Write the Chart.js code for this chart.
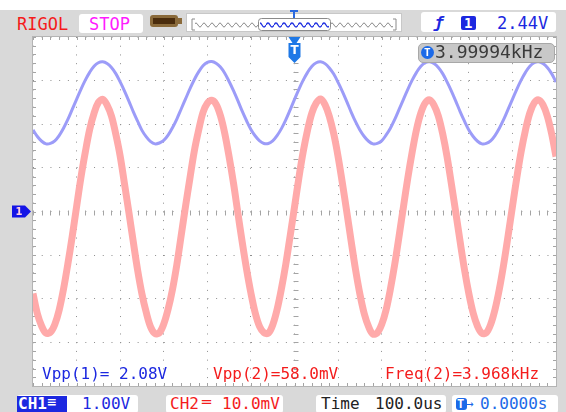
<!DOCTYPE html>
<html>
<head>
<meta charset="utf-8">
<script src="https://cdn.jsdelivr.net/npm/chart.js@4.4.1/dist/chart.umd.min.js"></script>
<style>
html, body { margin: 0; padding: 0; background: #fff; }
#scope { position: relative; width: 566px; height: 412px; overflow: hidden; background: #fff; }
#panel { position: absolute; left: 0; top: 10px; width: 566px; height: 402px; background: #d9d9d9; }
#c { position: absolute; left: 0; top: 0; }
.t { position: absolute; font-family: "DejaVu Sans Mono", monospace; font-size: 16px; line-height: 18px; white-space: pre; }
.box { position: absolute; background: #fff; border-radius: 3px; }
</style>
</head>
<body>
<div id="scope">
  <div id="panel"></div>

  <!-- top bar -->
  <div class="t" style="left:17px;top:15px;color:#f41c1c;font-size:17px;">RIGOL</div>
  <div class="box" style="left:79px;top:14px;width:64px;height:19px;"></div>
  <div class="t" style="left:89px;top:15px;color:#ff1cff;font-size:17px;">STOP</div>
  <div style="position:absolute;left:150px;top:15px;width:28px;height:12px;background:#8a6a3a;border-radius:3px;"></div>
  <div style="position:absolute;left:153px;top:18px;width:22px;height:6px;background:#4a2c0c;"></div>
  <div style="position:absolute;left:178px;top:18px;width:4px;height:6px;background:#8a6a3a;"></div>
  <svg style="position:absolute;left:186px;top:10px;" width="216" height="22">
    <defs>
      <pattern id="wg" width="8" height="22" patternUnits="userSpaceOnUse">
        <path d="M0 15 Q2 11 4 15 T8 15" fill="none" stroke="#8a8a8a" stroke-width="1"/>
      </pattern>
      <pattern id="wb" width="8" height="22" patternUnits="userSpaceOnUse">
        <path d="M0 15 Q2 11 4 15 T8 15" fill="none" stroke="#2030e0" stroke-width="1.3"/>
      </pattern>
    </defs>
    <rect x="0.5" y="3.5" width="215" height="18" fill="#fff" stroke="#c8c8c8"/>
    <path d="M9 9 L6 9 L6 20 L9 20" fill="none" stroke="#8a8a8a"/>
    <path d="M207 9 L210 9 L210 20 L207 20" fill="none" stroke="#8a8a8a"/>
    <rect x="9" y="9" width="63" height="12" fill="url(#wg)"/>
    <rect x="145" y="9" width="62" height="12" fill="url(#wg)"/>
    <rect x="72.5" y="8.5" width="72" height="12" rx="3" fill="#fff" stroke="#8a8a8a"/>
    <rect x="74" y="9" width="69" height="11" fill="url(#wb)"/>
    <path d="M104 1 L112 1 M108 1 L108 8" stroke="#2a6ae0" stroke-width="2"/>
  </svg>
  <div class="box" style="left:421px;top:12px;width:135px;height:20px;"></div>
  <div class="t" style="left:434px;top:14px;color:#1c28e0;font-weight:bold;font-style:italic;">ƒ</div>
  <div style="position:absolute;left:461px;top:16px;width:15px;height:14px;background:#1c28e0;border-radius:2px;"></div>
  <div class="t" style="left:464px;top:14px;color:#fff;font-weight:bold;font-size:14px;">1</div>
  <div class="t" style="left:497px;top:14px;color:#1c28e0;font-size:17px;">2.44V</div>

  <!-- bottom bar -->
  <div class="box" style="left:17px;top:395px;width:121px;height:18px;"></div>
  <div style="position:absolute;left:17px;top:396px;width:50px;height:16px;background:#1c28e0;"></div>
  <div class="t" style="left:18px;top:395px;color:#fff;font-weight:bold;">CH1</div>
  <div class="t" style="left:47px;top:393px;color:#fff;font-size:15px;">≡</div>
  <div class="t" style="left:82px;top:395px;color:#1c28e0;">1.00V</div>
  <div class="box" style="left:166px;top:395px;width:117px;height:18px;"></div>
  <div class="t" style="left:170px;top:395px;color:#f41c1c;">CH2</div>
  <div class="t" style="left:202px;top:393px;color:#f41c1c;font-size:15px;">═</div>
  <div class="t" style="left:222px;top:395px;color:#f41c1c;">10.0mV</div>
  <div class="box" style="left:316px;top:395px;width:130px;height:18px;"></div>
  <div class="t" style="left:321px;top:395px;color:#222;">Time</div>
  <div class="t" style="left:375px;top:395px;color:#222;">100.0us</div>
  <div class="box" style="left:452px;top:395px;width:106px;height:18px;"></div>
  <div style="position:absolute;left:456px;top:398px;width:11px;height:12px;background:#1c6ae8;border-radius:3px;"></div>
  <div class="t" style="left:457px;top:395px;color:#fff;font-size:12px;font-weight:bold;">T</div>
  <div class="t" style="left:466px;top:395px;color:#1c6ae8;font-size:13px;">→</div>
  <div class="t" style="left:480px;top:395px;color:#1c6ae8;">0.0000s</div>

  <canvas id="c" width="566" height="412"></canvas>

  <!-- measurements over the grid -->
  <div class="t" style="left:42px;top:365px;color:#1c28e0;">Vpp(1)= 2.08V</div>
  <div class="t" style="left:213px;top:365px;color:#f41c1c;">Vpp(2)=58.0mV</div>
  <div class="t" style="left:385px;top:365px;color:#f41c1c;">Freq(2)=3.968kHz</div>

  <div style="position:absolute;left:418px;top:43px;width:135px;height:18px;background:#c8c8c8;border:1px solid #a8a8a8;border-radius:5px;"></div>
  <div style="position:absolute;left:421px;top:46px;width:13px;height:13px;background:#1c6ae8;border-radius:7px;"></div>
  <div class="t" style="left:424px;top:44px;color:#fff;font-size:11px;font-weight:bold;">T</div>
  <div class="t" style="left:435px;top:43px;color:#3a3a3a;font-size:18px;">3.99994kHz</div>
</div>

<script>
// time axis, us (100us/div, trigger at 0)
const times = [-600,-590,-580,-570,-560,-550,-540,-530,-520,-510,-500,-490,-480,-470,-460,-450,-440,-430,-420,-410,
  -400,-390,-380,-370,-360,-350,-340,-330,-320,-310,-300,-290,-280,-270,-260,-250,-240,-230,-220,-210,
  -200,-190,-180,-170,-160,-150,-140,-130,-120,-110,-100,-90,-80,-70,-60,-50,-40,-30,-20,-10,
  0,10,20,30,40,50,60,70,80,90,100,110,120,130,140,150,160,170,180,190,
  200,210,220,230,240,250,260,270,280,290,300,310,320,330,340,350,360,370,380,390,
  400,410,420,430,440,450,460,470,480,490,500,510,520,530,540,550,560,570,580,590,600];

// CH1, volts (1.00V/div)
const ch1 = [1.87,1.72,1.61,1.55,1.56,1.62,1.74,1.91,2.11,2.34,2.57,2.80,3.01,3.19,3.33,3.41,3.43,3.39,3.30,3.16,2.97,2.76,2.53,2.29,2.07,
  1.86,1.71,1.60,1.55,1.57,1.63,1.75,1.92,2.12,2.35,2.58,2.81,3.02,3.20,3.34,3.42,3.44,3.40,3.31,3.17,2.98,2.77,2.54,2.30,2.08,
  1.88,1.73,1.62,1.56,1.56,1.62,1.74,1.90,2.10,2.33,2.57,2.80,3.01,3.19,3.33,3.41,3.43,3.39,3.29,3.15,2.96,2.75,2.52,2.28,2.06,
  1.87,1.72,1.61,1.55,1.56,1.62,1.75,1.91,2.11,2.34,2.57,2.80,3.01,3.19,3.33,3.41,3.43,3.39,3.30,3.16,2.97,2.76,2.53,2.29,2.07,
  1.87,1.72,1.61,1.55,1.56,1.62,1.74,1.91,2.11,2.34,2.57,2.80,3.01,3.19,3.33,3.41,3.43,3.39,3.30,3.16,2.97];

// CH2, millivolts (10.0mV/div)
const ch2 = [-18.8,-23.4,-26.3,-27.9,-27.7,-25.9,-22.6,-17.8,-12.0,-5.7,1.1,7.8,13.6,18.8,22.5,25.0,25.7,24.4,21.9,17.7,12.7,6.3,-0.2,-6.9,-13.4,
  -18.9,-23.2,-26.5,-28.0,-27.8,-25.8,-22.4,-17.9,-12.2,-5.5,1.2,7.6,13.8,18.6,22.7,24.8,25.5,24.6,22.0,17.9,12.5,6.5,-0.3,-7.0,-13.2,
  -18.7,-23.3,-26.4,-27.8,-27.9,-26.0,-22.5,-17.7,-12.1,-5.6,1.0,7.7,13.7,18.7,22.6,24.9,25.8,24.5,21.8,17.8,12.6,6.4,-0.1,-6.8,-13.3,
  -18.9,-23.4,-26.4,-28.1,-27.8,-25.9,-22.6,-17.8,-12.1,-5.6,1.1,7.7,13.6,18.8,22.6,24.9,25.6,24.4,21.9,17.8,12.6,6.3,-0.2,-6.9,-13.3,
  -18.8,-23.3,-26.3,-27.9,-27.8,-25.9,-22.5,-17.8,-12.1,-5.6,1.1,7.7,13.7,18.7,22.6,24.9,25.6,24.5,21.9,17.8,12.6];

//白底、邊框刻度、通道與觸發標記
const scopeFrame = {
    id: 'scopeFrame',
    beforeDraw(chart) {
        let ctx = chart.ctx, a = chart.chartArea;
        ctx.save();
        ctx.fillStyle = '#ffffff';
        ctx.fillRect(a.left, a.top, a.right - a.left, a.bottom - a.top);
        ctx.restore();
    },
    beforeDatasetsDraw(chart) {
        let ctx = chart.ctx, a = chart.chartArea;
        let x = chart.scales.x, y = chart.scales.y;
        let cx = Math.round(x.getPixelForValue(0)) + 0.5;
        let cy = Math.round(y.getPixelForValue(0)) + 0.5;
        ctx.save();
        ctx.strokeStyle = '#a4a4a4';
        ctx.lineWidth = 1;
        ctx.beginPath();
        for (let t = -600; t <= 600; t += 20) {
            let px = Math.round(x.getPixelForValue(t)) + 0.5;
            ctx.moveTo(px, a.top); ctx.lineTo(px, a.top + 3);
            ctx.moveTo(px, a.bottom); ctx.lineTo(px, a.bottom - 3);
            ctx.moveTo(px, cy - 2); ctx.lineTo(px, cy + 3);
        }
        for (let v = -40; v <= 40; v += 2) {
            let py = Math.round(y.getPixelForValue(v / 10)) + 0.5;
            ctx.moveTo(a.left, py); ctx.lineTo(a.left + 3, py);
            ctx.moveTo(a.right, py); ctx.lineTo(a.right - 3, py);
            ctx.moveTo(cx - 2, py); ctx.lineTo(cx + 3, py);
        }
        ctx.stroke();
        ctx.strokeStyle = '#b4b4b4';
        ctx.strokeRect(a.left - 0.5, a.top - 0.5, a.right - a.left + 1, a.bottom - a.top + 1);
        ctx.restore();
    },
    afterDatasetsDraw(chart) {
        let ctx = chart.ctx, a = chart.chartArea;
        let x0 = chart.scales.x.getPixelForValue(0);
        let y0 = chart.scales.y.getPixelForValue(0);
        ctx.save();
        // CH1 ground marker
        ctx.fillStyle = '#1414e6';
        ctx.beginPath();
        ctx.moveTo(12, y0 - 6); ctx.lineTo(25, y0 - 6); ctx.lineTo(31, y0);
        ctx.lineTo(25, y0 + 6); ctx.lineTo(12, y0 + 6); ctx.closePath();
        ctx.fill();
        ctx.fillStyle = '#ffd0e0';
        ctx.font = 'bold 10px "DejaVu Sans"';
        ctx.textAlign = 'center'; ctx.textBaseline = 'middle';
        ctx.fillText('1', 19, y0 + 0.5);
        // trigger position marker
        ctx.fillStyle = '#1e78e6';
        ctx.beginPath();
        ctx.moveTo(x0 - 6, a.top); ctx.lineTo(x0 + 6, a.top); ctx.lineTo(x0 + 2, a.top + 6);
        ctx.lineTo(x0 + 6, a.top + 6); ctx.lineTo(x0 + 6, a.top + 20); ctx.lineTo(x0, a.top + 26);
        ctx.lineTo(x0 - 6, a.top + 20); ctx.lineTo(x0 - 6, a.top + 6); ctx.lineTo(x0 - 2, a.top + 6);
        ctx.closePath();
        ctx.fill();
        ctx.fillStyle = '#ffffff';
        ctx.font = 'bold 12px "DejaVu Sans"';
        ctx.fillText('T', x0, a.top + 14);
        ctx.restore();
    }
};

let data = {
    datasets: [{
        label: 'CH2',
        data: times.map((t, i) => ({x: t, y: ch2[i]})),
        yAxisID: 'y2',
        borderColor: 'rgb(255, 170, 170)',
        borderWidth: 7,
        tension: 0.35,
        pointRadius: 0,
        order: 2
    }, {
        label: 'CH1',
        data: times.map((t, i) => ({x: t, y: ch1[i]})),
        yAxisID: 'y',
        borderColor: 'rgb(156, 156, 248)',
        borderWidth: 3,
        tension: 0.35,
        pointRadius: 0,
        order: 1
    }]
};

let gridOpts = {
    color: '#8e8e8e',
    lineWidth: 1,
    drawTicks: false
};

let config = {
    type: 'line',
    data: data,
    options: {
        responsive: false,
        animation: false,
        devicePixelRatio: 1,
        layout: { padding: { left: 33, top: 37, right: 10, bottom: 26 } },
        plugins: { legend: { display: false }, tooltip: { enabled: false } },
        scales: {
            x: {
                type: 'linear', min: -600, max: 600,
                ticks: { display: false, stepSize: 100 },
                grid: gridOpts,
                border: { display: false, dash: [1, 7.72] },
                afterFit: s => { s.height = 0; }
            },
            y: {
                min: -4, max: 4,
                ticks: { display: false, stepSize: 1 },
                grid: gridOpts,
                border: { display: false, dash: [1, 7.72] },
                afterFit: s => { s.width = 0; }
            },
            y2: {
                display: false, min: -40, max: 40
            }
        }
    },
    plugins: [scopeFrame]
};

let scope_chart = new Chart(document.getElementById('c'), config);
</script>
</body>
</html>
